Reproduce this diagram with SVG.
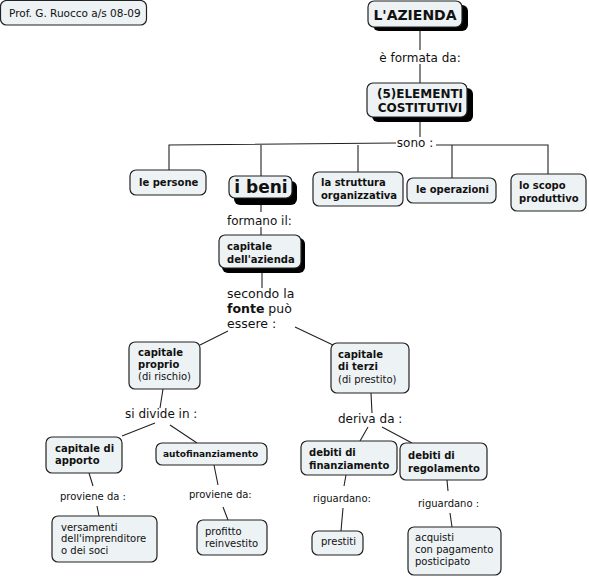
<svg xmlns="http://www.w3.org/2000/svg" width="589" height="578" viewBox="0 0 589 578">
<style>
.box{fill:#edf2f4;stroke:#222;stroke-width:1.2}
.sh{fill:#000}
.b{font-family:"DejaVu Sans",Verdana,sans-serif;font-weight:bold;font-size:10px;fill:#111}
.n{font-family:"DejaVu Sans",Verdana,sans-serif;font-size:10px;fill:#111}
.lbl{font-family:"DejaVu Sans",Verdana,sans-serif;font-size:12px;fill:#111}
.lbs{font-family:"DejaVu Sans",Verdana,sans-serif;font-size:10px;fill:#111}
.c{fill:none;stroke:#222;stroke-width:1.1}
</style>
<rect width="589" height="578" fill="#fff"/>
<g id="connectors">
<path class="c" d="M420 27 L420 50 M420 64 L420 83"/>
<path class="c" d="M420 117 L420 137"/>
<path class="c" d="M396 143 L169 145 L169 170 M261 145 L261 176 M358 145 L358 172"/>
<path class="c" d="M436 145 L548 145 L548 174 M452 145 L452 178"/>
<path class="c" d="M261 197 L261 212 M261 227 L261 235"/>
<path class="c" d="M262 268 L262 288"/>
<path class="c" d="M228 331 L200 345 M295 327 L333 345"/>
<path class="c" d="M163 389 L160 408 M155 423 L122 436 M170 425 L197 443"/>
<path class="c" d="M89 473 L93 486 M97 506 L99 516"/>
<path class="c" d="M214 465 L218 485 M223 507 L228 520"/>
<path class="c" d="M371 393 L372 413 M368 427 L360 441 M382 427 L412 443"/>
<path class="c" d="M346 475 L344 486 M343 508 L341 531"/>
<path class="c" d="M447 480 L448 491 M450 513 L452 527"/>
</g>
<g id="prof"><rect class="box" x="0.5" y="0.5" width="146" height="24.5" rx="6"/><text class="n" x="9" y="17" style="font-size:10.5px">Prof. G. Ruocco a/s 08-09</text></g>
<g id="azienda"><rect class="sh" x="373" y="5" width="95" height="26" rx="6"/><rect class="box" x="368" y="1" width="94" height="26" rx="6"/><text class="b" x="415" y="20" text-anchor="middle" style="font-size:14px">L'AZIENDA</text></g>
<text class="lbl" x="420" y="62" text-anchor="middle">è formata da:</text>
<g id="elementi"><rect class="sh" x="372" y="88" width="101" height="34" rx="6"/><rect class="box" x="367" y="83" width="100" height="34" rx="6"/><text class="b" x="420" y="98" text-anchor="middle" style="font-size:12px">(5)ELEMENTI</text><text class="b" x="420" y="112" text-anchor="middle" style="font-size:12px">COSTITUTIVI</text></g>
<text class="lbl" x="415" y="147" text-anchor="middle">sono :</text>
<g id="persone"><rect class="box" x="130" y="170" width="76" height="25" rx="6"/><text class="b" x="139" y="186">le persone</text></g>
<g id="beni"><rect class="sh" x="234" y="181" width="63" height="24" rx="6"/><rect class="box" x="229" y="176" width="63" height="22" rx="6"/><text class="b" x="261" y="193" text-anchor="middle" style="font-size:17px">i beni</text></g>
<g id="struttura"><rect class="box" x="313" y="172" width="90" height="34" rx="6"/><text class="b" x="321" y="186">la struttura</text><text class="b" x="321" y="199">organizzativa</text></g>
<g id="operazioni"><rect class="box" x="407" y="178" width="89" height="25" rx="6"/><text class="b" x="416" y="193">le operazioni</text></g>
<g id="scopo"><rect class="box" x="511" y="174" width="75" height="37" rx="6"/><text class="b" x="519" y="189">lo scopo</text><text class="b" x="519" y="202">produttivo</text></g>
<text class="lbl" x="227" y="225">formano il:</text>
<g id="capitale-azienda"><rect class="sh" x="222" y="238" width="83" height="35" rx="6"/><rect class="box" x="219" y="235" width="82" height="33" rx="6"/><text class="b" x="227" y="250">capitale</text><text class="b" x="227" y="263">dell'azienda</text></g>
<text class="lbl" x="227" y="298" style="font-size:12.5px">secondo la</text>
<text class="lbl" x="227" y="313" style="font-size:12.5px"><tspan font-weight="bold">fonte</tspan> può</text>
<text class="lbl" x="227" y="328" style="font-size:12.5px">essere :</text>
<g id="proprio"><rect class="box" x="129" y="342" width="71" height="47" rx="6"/><text class="b" x="138" y="356">capitale</text><text class="b" x="138" y="368">proprio</text><text class="n" x="138" y="380">(di rischio)</text></g>
<g id="terzi"><rect class="box" x="331" y="343" width="78" height="50" rx="6"/><text class="b" x="338" y="358">capitale</text><text class="b" x="338" y="370">di terzi</text><text class="n" x="338" y="383">(di prestito)</text></g>
<text class="lbl" x="125" y="418">si divide in :</text>
<text class="lbl" x="338" y="423">deriva da :</text>
<g id="apporto"><rect class="box" x="46" y="437" width="76" height="36" rx="6"/><text class="b" x="55" y="452" fill="#333">capitale di</text><text class="b" x="55" y="464" fill="#333">apporto</text></g>
<g id="autofin"><rect class="box" x="156" y="443" width="111" height="22" rx="6"/><text class="b" x="163" y="457" style="font-size:9px">autofinanziamento</text></g>
<g id="deb-fin"><rect class="box" x="301" y="441" width="96" height="34" rx="6"/><text class="b" x="309" y="456">debiti di</text><text class="b" x="309" y="469">finanziamento</text></g>
<g id="deb-reg"><rect class="box" x="400" y="443" width="87" height="37" rx="6"/><text class="b" x="408" y="459">debiti di</text><text class="b" x="408" y="472">regolamento</text></g>
<text class="lbs" x="60" y="500">proviene da :</text>
<text class="lbs" x="189" y="498">proviene da:</text>
<text class="lbs" x="313" y="502">riguardano:</text>
<text class="lbs" x="418" y="507">riguardano :</text>
<g id="versamenti"><rect class="box" x="52" y="516" width="105" height="46" rx="6"/><text class="n" x="61" y="531">versamenti</text><text class="n" x="61" y="542">dell'imprenditore</text><text class="n" x="61" y="554">o dei soci</text></g>
<g id="profitto"><rect class="box" x="197" y="520" width="70" height="35" rx="6"/><text class="n" x="205" y="535">profitto</text><text class="n" x="205" y="547">reinvestito</text></g>
<g id="prestiti"><rect class="box" x="312" y="531" width="51" height="24" rx="6"/><text class="n" x="321" y="545">prestiti</text></g>
<g id="acquisti"><rect class="box" x="408" y="527" width="93" height="48" rx="6"/><text class="n" x="415" y="541">acquisti</text><text class="n" x="415" y="553">con pagamento</text><text class="n" x="415" y="565">posticipato</text></g>
</svg>
